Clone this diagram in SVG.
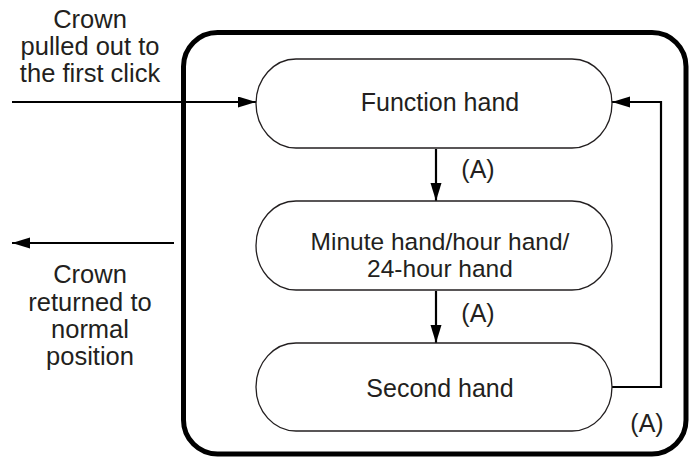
<svg xmlns="http://www.w3.org/2000/svg" width="691" height="458" viewBox="0 0 691 458">
<defs>
<style>
text{font-family:"Liberation Sans",Arial,sans-serif;fill:#231f20;text-anchor:middle}
.t{font-size:25px}
.m{font-size:24.5px}
.s{font-size:25.5px}
.node{fill:#fff;stroke:#231f20;stroke-width:1.3}
.c{fill:none;stroke:#000;stroke-width:2.2}
</style>
<marker id="ah" markerUnits="userSpaceOnUse" markerWidth="20" markerHeight="12" refX="18" refY="5.5" orient="auto">
<path d="M0,0 L18,5.5 L0,11 Z" fill="#000"/>
</marker>
</defs>
<rect x="183.5" y="32.5" width="502.5" height="421.5" rx="34" ry="34" fill="none" stroke="#000" stroke-width="5"/>
<g id="connectors">
<line class="c" x1="12" y1="102" x2="256" y2="102" marker-end="url(#ah)"/>
<line class="c" x1="174" y1="243" x2="12" y2="243" marker-end="url(#ah)"/>
<line class="c" x1="436" y1="149" x2="436" y2="201" marker-end="url(#ah)"/>
<line class="c" x1="436" y1="291" x2="436" y2="343" marker-end="url(#ah)"/>
<polyline class="c" points="612,387 661,387 661,102 612,102" marker-end="url(#ah)"/>
</g>
<g id="n1">
<rect class="node" x="256" y="59" width="356" height="89" rx="40" ry="44.5"/>
<text class="t" x="440" y="111">Function hand</text>
</g>
<g id="n2">
<rect class="node" x="256" y="201" width="356" height="89" rx="40" ry="44.5"/>
<text class="m" x="440" y="250">Minute hand/hour hand/</text>
<text class="m" x="440" y="276.5">24-hour hand</text>
</g>
<g id="n3">
<rect class="node" x="256" y="343" width="356" height="88" rx="40" ry="44"/>
<text class="t" x="440" y="397">Second hand</text>
</g>
<g id="labels">
<text class="t" x="478" y="178">(A)</text>
<text class="t" x="478" y="322">(A)</text>
<text class="t" x="647" y="432">(A)</text>
<text class="s" x="90" y="28">Crown</text>
<text class="s" x="90" y="55">pulled out to</text>
<text class="s" x="90" y="82">the first click</text>
<text class="s" x="90" y="283">Crown</text>
<text class="s" x="90" y="311">returned to</text>
<text class="s" x="90" y="338">normal</text>
<text class="s" x="90" y="365">position</text>
</g>
</svg>
